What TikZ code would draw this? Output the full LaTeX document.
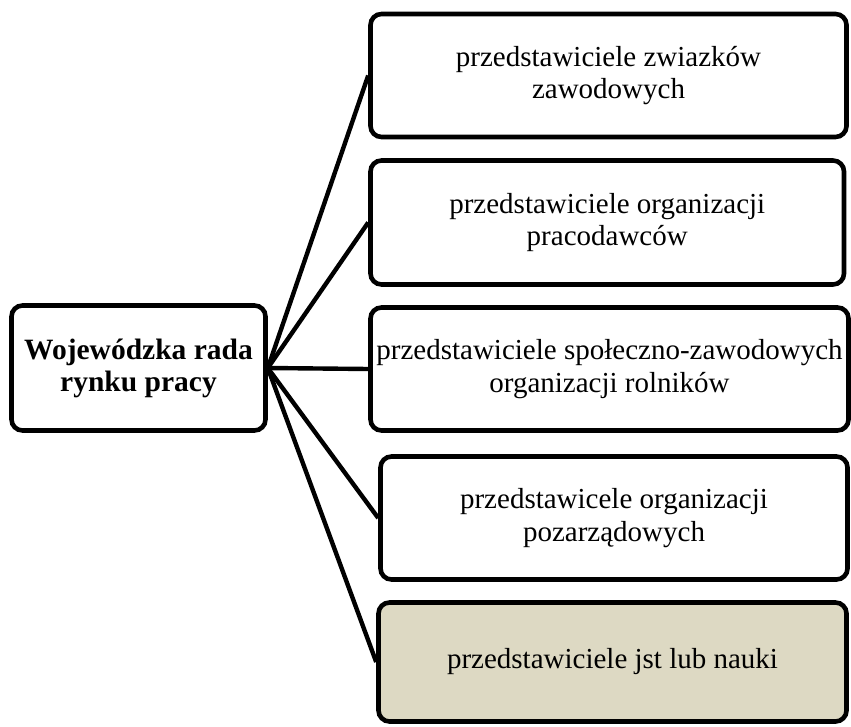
\documentclass[tikz,border=0pt]{standalone}
\usepackage{fontspec}
\setmainfont{Liberation Serif}
\definecolor{tanfill}{HTML}{DDD9C3}
\begin{document}
\begin{tikzpicture}[x=1pt,y=-1pt,
  box/.style={draw=black, line width=4.6pt, rounded corners=11pt, fill=white,
    inner sep=0pt, align=center, font=\fontsize{29}{32.5}\selectfont},
  link/.style={draw=black, line width=4.4pt}]
\useasboundingbox (0,0) rectangle (851,727);
\node[box, font=\fontsize{29.5}{32}\selectfont\bfseries, minimum width=254pt, minimum height=125pt] (main) at (138.5,368) {Wojewódzka rada\\rynku pracy};
\node[box, minimum width=476pt, minimum height=123pt] (b1) at (608.5,75.5) {przedstawiciele zwiazków\\zawodowych};
\node[box, minimum width=473.5pt, minimum height=124pt] (b2) at (607.25,222.5) {przedstawiciele organizacji\\pracodawców};
\node[box, minimum width=478pt, minimum height=123pt] (b3) at (609.5,369) {przedstawiciele społeczno-zawodowych\\organizacji rolników};
\node[box, minimum width=467pt, minimum height=123pt] (b4) at (614,518) {przedstawicele organizacji\\pozarządowych};
\node[box, fill=tanfill, minimum width=468pt, minimum height=119pt] (b5) at (612.5,662) {przedstawiciele jst lub nauki};
\foreach \b in {b1,b2,b3,b4,b5}
  \draw[link] (main.east) -- (\b.west);
\end{tikzpicture}
\end{document}
